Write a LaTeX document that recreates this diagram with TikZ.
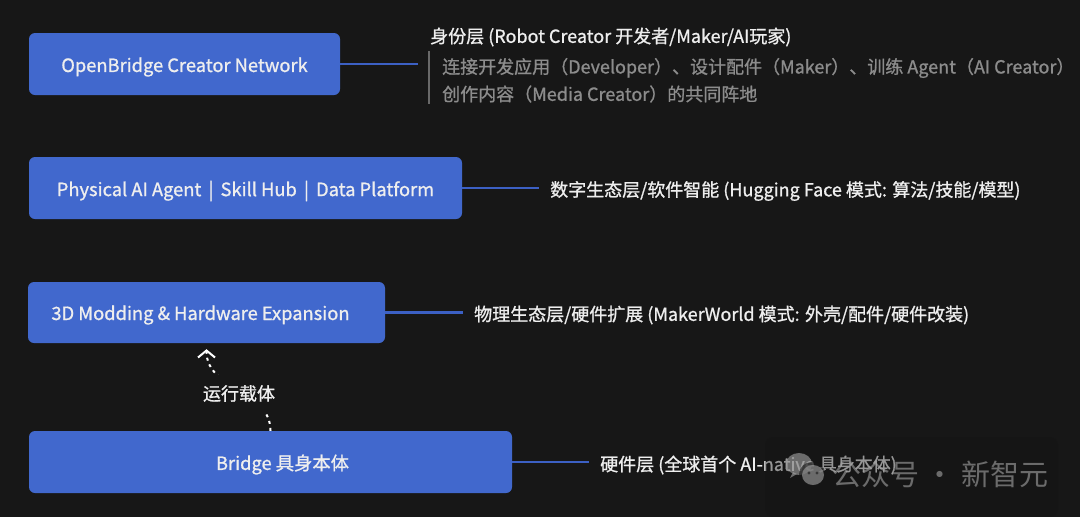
\documentclass[tikz,border=0pt]{standalone}
\usepackage{fontspec}
\setmainfont{Noto Sans CJK SC}
\newfontfamily\medfont{Noto Sans CJK SC}[FakeBold=1]
\usetikzlibrary{arrows.meta}
\definecolor{bg}{RGB}{23,23,23}
\definecolor{boxblue}{RGB}{65,104,205}
\definecolor{lineblue}{RGB}{60,96,196}
\definecolor{notewhite}{RGB}{238,238,238}
\definecolor{notegray}{RGB}{140,140,140}
\definecolor{bargray}{RGB}{105,105,105}
\definecolor{wmgray}{RGB}{165,165,165}
\definecolor{wmbg}{RGB}{19,19,19}
\tikzset{
  box/.style={fill=boxblue, draw=none, rounded corners=6pt, inner sep=0pt},
  boxtext/.style={inner sep=0pt, text=notewhite, font=\medfont\fontsize{18.3}{22}\selectfont},
  link/.style={draw=lineblue, line width=2.2pt},
  note/.style={anchor=west, inner sep=0pt, text=notewhite, font=\medfont\fontsize{18}{22}\selectfont},
  graynote/.style={note, text=notegray},
  bar/.style={draw=bargray, line width=2pt},
  flow/.style={draw=white, line width=2pt, dash pattern=on 3pt off 4pt, -{Straight Barb[length=7pt, width=17pt]}},
  lbl/.style={fill=bg, text=notewhite, inner xsep=3pt, minimum height=38pt, font=\medfont\fontsize{18}{22}\selectfont},
  wm/.style={text=wmgray, opacity=0.6, inner sep=0pt, font=\fontsize{29}{32}\selectfont},
}
\begin{document}
\begin{tikzpicture}[x=1pt, y=-1pt]
\useasboundingbox (0,0) rectangle (1080,517);
\fill[bg] (0,0) rectangle (1080,517);

% boxes
\node[box, minimum width=311pt, minimum height=62pt] (b1) at (184.5,64) {};
\node[box, minimum width=433pt, minimum height=62pt] (b2) at (245.5,188) {};
\node[box, minimum width=357pt, minimum height=61pt] (b3) at (206.5,312.5) {};
\node[box, minimum width=483pt, minimum height=62pt] (b4) at (270.5,462) {};

\node[boxtext] (t1) at ([yshift=-3pt]b1.center) {OpenBridge Creator Network};
\node[boxtext] (t2) at ([yshift=-3pt]b2.center) {Physical AI Agent \,|\, Skill Hub \,|\, Data Platform};
\node[boxtext] (t3) at ([xshift=-6pt, yshift=-2.5pt]b3.center) {3D Modding \& Hardware Expansion};
\node[boxtext] (t4) at ([xshift=12pt, yshift=-2.5pt]b4.center) {Bridge 具身本体};

% connectors to annotations
\coordinate (e1) at (418,64);
\coordinate (e2) at (539,188);
\coordinate (e3) at (463,312.5);
\coordinate (e4) at (589,462);
\draw[link] (b1.east) -- (e1);
\draw[link] (b2.east) -- (e2);
\draw[link] (b3.east) -- (e3);
\draw[link] (b4.east) -- (e4);

% identity layer annotation
\coordinate (bartop) at (429,51);
\coordinate (barbot) at (429,104);
\draw[bar] (bartop) -- (barbot);
\node[note] (h1) at (430,37) {身份层 (Robot Creator 开发者/Maker/AI玩家)};
\node[graynote] (g1) at (442,68) {连接开发应用（Developer）、设计配件（Maker）、训练 Agent（AI Creator）};
\node[graynote] (g2) at (442,94) {创作内容（Media Creator）的共同阵地};

% other annotations
\node[note] (h2) at (550,191) {数字生态层/软件智能 (Hugging Face 模式: 算法/技能/模型)};
\node[note] (h3) at (474,315) {物理生态层/硬件扩展 (MakerWorld 模式: 外壳/配件/硬件改装)};
\node[note] (h4) at (600,465) {硬件层 (全球首个 AI-native 具身本体)};

% carrier arrow
\coordinate (tip) at ([yshift=-6pt]b3.south);
\draw[flow] (b4.north) .. controls +(0,-41) and +(0,41) .. (tip);
\node[lbl] (lab) at (239,393.5) {运行载体};

% watermark
\fill[wmbg, rounded corners=8pt, opacity=0.4] (765,437) rectangle (1058,517);
\begin{scope}[opacity=0.6]
  \fill[wmgray] (799,464) ellipse [x radius=13, y radius=11];
  \fill[bg] (812,474) ellipse [x radius=13, y radius=12];
  \fill[wmgray] (813,475) ellipse [x radius=11, y radius=10];
  \fill[wmgray] (790,478) -- (793,472) -- (797,474) -- cycle;
  \fill[bg] (809,473) circle (1.6);
  \fill[bg] (817,473) circle (1.6);
\end{scope}
\node[wm] (wm) at (940,474) {公众号 · 新智元};
\end{tikzpicture}
\end{document}
